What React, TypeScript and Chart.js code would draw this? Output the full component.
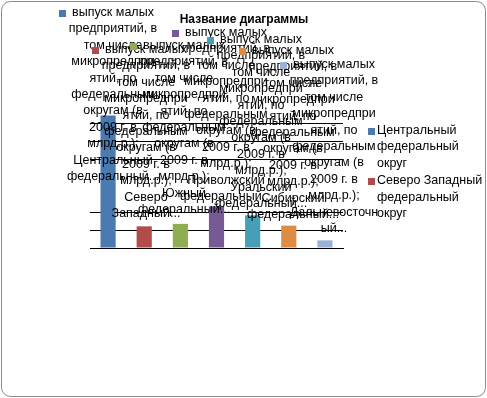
import React, { useEffect, useRef } from "react";
import { Chart, registerables } from "chart.js";

Chart.register(...registerables);

// ---- data ----
const chartTitle = "Название диаграммы";
const categories = [
  "Центральный федеральный округ",
  "Северо Западный федеральный округ",
  "Южный федеральный округ",
  "Приволжский федеральный округ",
  "Уральский федеральный округ",
  "Сибирский федеральный округ",
  "Дальневосточный федеральный округ",
];
const seriesName =
  "выпуск малых предприятий, в том числе микропредприятий, по федеральным округам (в 2009 г. в млрд.р.)";
const values = [7470, 1220, 1360, 2350, 1840, 1260, 430];
const yMax = 8000;
const yStep = 1000;

// wrapped data-label text (as shown, truncated by the source chart)
const seriesLabelLines = [
  "выпуск малых",
  "предприятий, в",
  "том числе",
  "микропредпри",
  "ятий, по",
  "федеральным",
  "округам (в",
  "2009 г. в",
  "млрд.р.);",
];
const categoryLabelLines = [
  ["Центральный", "федеральный..."],
  ["Северо", "Западный..."],
  ["Южный", "федеральный..."],
  ["Приволжский", "федеральный..."],
  ["Уральский", "федеральный..."],
  ["Сибирский", "федеральный..."],
  ["Дальневосточн", "ый..."],
];
const legendEntriesShown = 2;

// ---- styles / layout ----
const barColors = ["#4A7AB0", "#B04C4A", "#8FAD53", "#775A95", "#469FB6", "#DE8B45", "#9CB0D8"];
const labelAnchors = [
  { x: 113, y: 13 },
  { x: 146, y: 50 },
  { x: 184, y: 46 },
  { x: 226, y: 33 },
  { x: 261, y: 40 },
  { x: 293, y: 51 },
  { x: 334, y: 65 },
];
const FONT = '12.5px "Liberation Sans", Arial, sans-serif';
const LINE_H = 16.4;

function wrap(ctx: CanvasRenderingContext2D, text: string, maxW: number): string[] {
  const words = text.split(" ");
  const lines: string[] = [];
  let cur = "";
  for (const w of words) {
    const t = cur ? cur + " " + w : w;
    if (ctx.measureText(t).width > maxW && cur) {
      lines.push(cur);
      cur = w;
    } else cur = t;
  }
  if (cur) lines.push(cur);
  return lines;
}

const decorPlugin = {
  id: "decor",
  beforeDraw(chart: any) {
    const ctx = chart.ctx as CanvasRenderingContext2D;
    ctx.save();
    ctx.fillStyle = "#fff";
    ctx.fillRect(0, 0, chart.width, chart.height);
    ctx.strokeStyle = "#8a8a8a";
    ctx.lineWidth = 1;
    ctx.beginPath();
    (ctx as any).roundRect(1.5, 1.5, chart.width - 3, chart.height - 3, 9);
    ctx.stroke();
    ctx.restore();
  },
  afterDraw(chart: any) {
    const ctx = chart.ctx as CanvasRenderingContext2D;
    ctx.save();
    ctx.font = FONT;
    ctx.fillStyle = "#000";
    ctx.textBaseline = "middle";
    // data labels with legend keys
    categories.forEach((_, i) => {
      const a = labelAnchors[i];
      const lines = [...seriesLabelLines, ...categoryLabelLines[i]];
      ctx.textAlign = "center";
      lines.forEach((ln, k) => {
        ctx.fillStyle = "#000";
        ctx.fillText(ln, a.x, Math.round(a.y + k * LINE_H));
      });
      const w0 = ctx.measureText(lines[0]).width;
      ctx.fillStyle = barColors[i];
      ctx.fillRect(Math.round(a.x - w0 / 2 - 13), Math.round(a.y - 3), 7, 7);
    });
    // title
    ctx.font = 'bold 12px "Liberation Sans", Arial, sans-serif';
    ctx.fillStyle = "#000";
    ctx.textAlign = "center";
    ctx.fillText(chartTitle, 244, 20);
    // legend (clipped, only first entries visible)
    ctx.font = FONT;
    ctx.textAlign = "left";
    let y = 131;
    for (let i = 0; i < legendEntriesShown; i++) {
      const lines = wrap(ctx, categories[i], 110);
      ctx.fillStyle = barColors[i];
      ctx.fillRect(368, Math.round(y - 3), 7, 7);
      ctx.fillStyle = "#000";
      lines.forEach((ln, k) => ctx.fillText(ln, 377, Math.round(y + k * LINE_H)));
      y += lines.length * LINE_H + 1;
    }
    ctx.restore();
  },
};

export default function App() {
  const ref = useRef<HTMLCanvasElement>(null);
  useEffect(() => {
    if (!ref.current) return;
    const chart = new Chart(ref.current, {
      type: "bar",
      data: {
        labels: categories,
        datasets: [
          {
            label: seriesName,
            data: values,
            backgroundColor: barColors,
            borderWidth: 0,
            barPercentage: 0.42,
            categoryPercentage: 1,
          },
        ],
      },
      options: {
        animation: false,
        responsive: false,
        devicePixelRatio: 1,
        layout: { padding: { left: 90, right: 144, top: 106, bottom: 150 } },
        plugins: { legend: { display: false }, title: { display: false }, tooltip: { enabled: false } },
        scales: {
          x: {
            grid: { display: false },
            ticks: { display: false },
            border: { display: true, color: "#000", width: 1 },
            afterFit: (s: any) => {
              s.height = 0;
            },
          },
          y: {
            min: 0,
            max: yMax,
            ticks: { display: false, stepSize: yStep },
            border: { display: false },
            grid: {
              drawTicks: false,
              tickLength: 0,
              color: (c: any) => {
                const v = c.tick ? c.tick.value : 0;
                return v === 0 || v === 3000 || v === 4000 || v === yMax ? "rgba(0,0,0,0)" : "#000";
              },
            },
            afterFit: (s: any) => {
              s.width = 0;
            },
          },
        },
      },
      plugins: [decorPlugin],
    });
    return () => chart.destroy();
  }, []);
  return (
    <div style={{ position: "fixed", left: 0, top: 0, width: 487, height: 398 }}>
      <canvas ref={ref} width={487} height={398} />
    </div>
  );
}
